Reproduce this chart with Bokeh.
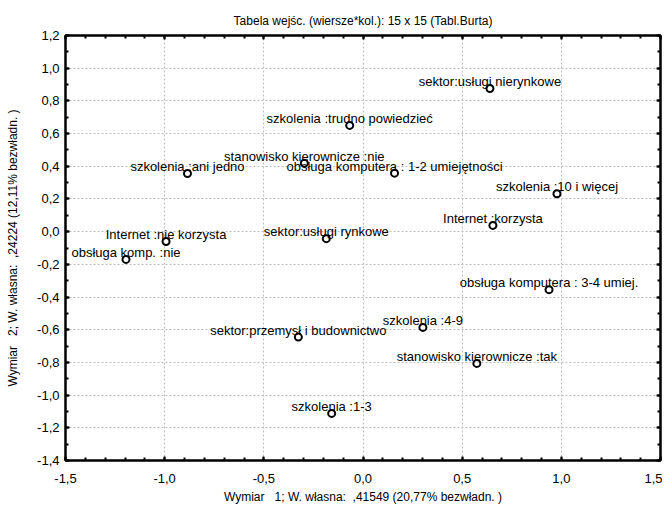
from bokeh.plotting import figure
from bokeh.models import (LinearAxis, FixedTicker, ColumnDataSource, Range1d,
                          CustomJSTickFormatter)
from bokeh.embed import file_html
from bokeh.resources import INLINE
from bokeh.core.properties import value
import numpy as np

# ---- data ----
labels = [
    "sektor:usługi nierynkowe",
    "szkolenia :trudno powiedzieć",
    "stanowisko kierownicze :nie",
    "obsługa komputera : 1-2 umiejętności",
    "szkolenia :ani jedno",
    "szkolenia :10 i więcej",
    "Internet :korzysta",
    "obsługa komputera : 3-4 umiej.",
    "szkolenia :4-9",
    "stanowisko kierownicze :tak",
    "sektor:przemysł i budownictwo",
    "szkolenia :1-3",
    "sektor:usługi rynkowe",
    "Internet :nie korzysta",
    "obsługa komp. :nie",
]
dim1 = [0.64, -0.067, -0.296, 0.159, -0.885, 0.978, 0.655, 0.938, 0.302,
        0.574, -0.326, -0.158, -0.185, -0.993, -1.195]
dim2 = [0.876, 0.650, 0.419, 0.358, 0.356, 0.232, 0.038, -0.355, -0.586,
        -0.806, -0.645, -1.112, -0.043, -0.060, -0.170]

x_ticks = [-1.5, -1.0, -0.5, 0.0, 0.5, 1.0, 1.5]
x_tick_labels = ["-1,5", "-1,0", "-0,5", "0,0", "0,5", "1,0", "1,5"]
y_ticks = [-1.4, -1.2, -1.0, -0.8, -0.6, -0.4, -0.2, 0.0, 0.2, 0.4, 0.6, 0.8, 1.0, 1.2]
y_tick_labels = ["-1,4", "-1,2", "-1,0", "-0,8", "-0,6", "-0,4", "-0,2", "0,0",
                 "0,2", "0,4", "0,6", "0,8", "1,0", "1,2"]

title_text = "Tabela wejśc. (wiersze*kol.): 15 x 15 (Tabl.Burta)"
x_label = "Wymiar\u00a0\u00a0 1; W. własna:\u00a0 ,41549 (20,77% bezwładn. )"
y_label = "Wymiar\u00a0\u00a0 2; W. własna:\u00a0 ,24224 (12,11% bezwładn. )"

FONT = "Liberation Sans"

src = ColumnDataSource(dict(x=dim1, y=dim2, label=labels))

p = figure(frame_width=595, frame_height=425, x_range=Range1d(-1.5, 1.5),
           y_range=Range1d(-1.4, 1.2), output_backend="svg",
           toolbar_location=None, min_border_left=65, min_border_right=2,
           min_border_top=35, min_border_bottom=40,
           background_fill_color="white", border_fill_color="white")

p.title.text = title_text
p.title.text_font = FONT
p.title.text_font_size = "12px"
p.title.text_font_style = "normal"
p.title.align = "center"
p.title.text_color = "black"
p.title.standoff = 15

x_minor = list(np.round(np.arange(-1.5, 1.5001, 0.1), 2))
y_minor = list(np.round(np.arange(-1.4, 1.2001, 0.1), 2))

def fmt(tvals, labs):
    return CustomJSTickFormatter(args=dict(tvals=tvals, labs=labs), code="""
        for (let i = 0; i < tvals.length; i++) {
            if (Math.abs(tvals[i] - tick) < 1e-9) return labs[i];
        }
        return '';
    """)

def style_axis(ax, tvals, minor, show_labels, labs=None):
    ax.ticker = FixedTicker(ticks=tvals, minor_ticks=minor)
    ax.axis_line_color = "black"
    ax.axis_line_width = 2
    ax.major_tick_in = 4
    ax.major_tick_out = 0
    ax.minor_tick_in = 3
    ax.minor_tick_out = 0
    ax.major_tick_line_width = 2
    ax.minor_tick_line_width = 2
    ax.major_tick_line_color = "black"
    ax.minor_tick_line_color = "black"
    if show_labels:
        ax.formatter = fmt(tvals, labs)
        ax.major_label_text_font = FONT
        ax.major_label_text_font_size = "13px"
        ax.major_label_text_color = "black"
        ax.axis_label_text_font = FONT
        ax.axis_label_text_font_size = "12px"
        ax.axis_label_text_font_style = "normal"
        ax.axis_label_text_color = "black"
    else:
        ax.major_label_text_font_size = "1px"
        ax.major_label_text_color = None
        ax.major_label_standoff = 0

xa = p.xaxis[0]
ya = p.yaxis[0]
style_axis(xa, x_ticks, x_minor, True, x_tick_labels)
style_axis(ya, y_ticks, y_minor, True, y_tick_labels)
xa.axis_label = x_label
ya.axis_label = y_label
xa.major_label_standoff = 13
xa.axis_label_standoff = 4
ya.major_label_standoff = 6
ya.axis_label_standoff = 14

top = LinearAxis()
style_axis(top, x_ticks, x_minor, False)
p.add_layout(top, "above")
right = LinearAxis()
style_axis(right, y_ticks, y_minor, False)
p.add_layout(right, "right")

p.outline_line_color = "black"
p.outline_line_width = 2

p.xgrid.ticker = FixedTicker(ticks=x_ticks)
p.ygrid.ticker = FixedTicker(ticks=y_ticks)
for g in (p.xgrid, p.ygrid):
    g.grid_line_color = "#bdbdbd"
    g.grid_line_dash = "2 2"
    g.grid_line_width = 1

p.text(x="x", y="y", text="label", source=src, text_align="center",
       text_baseline="alphabetic", y_offset=-7, text_font=value(FONT),
       text_font_size="13px", text_color="black")
p.scatter(x="x", y="y", source=src, marker="circle", size=7,
          fill_color=None, line_color="black", line_width=2)

open("out.html", "w").write(file_html(p, INLINE))
